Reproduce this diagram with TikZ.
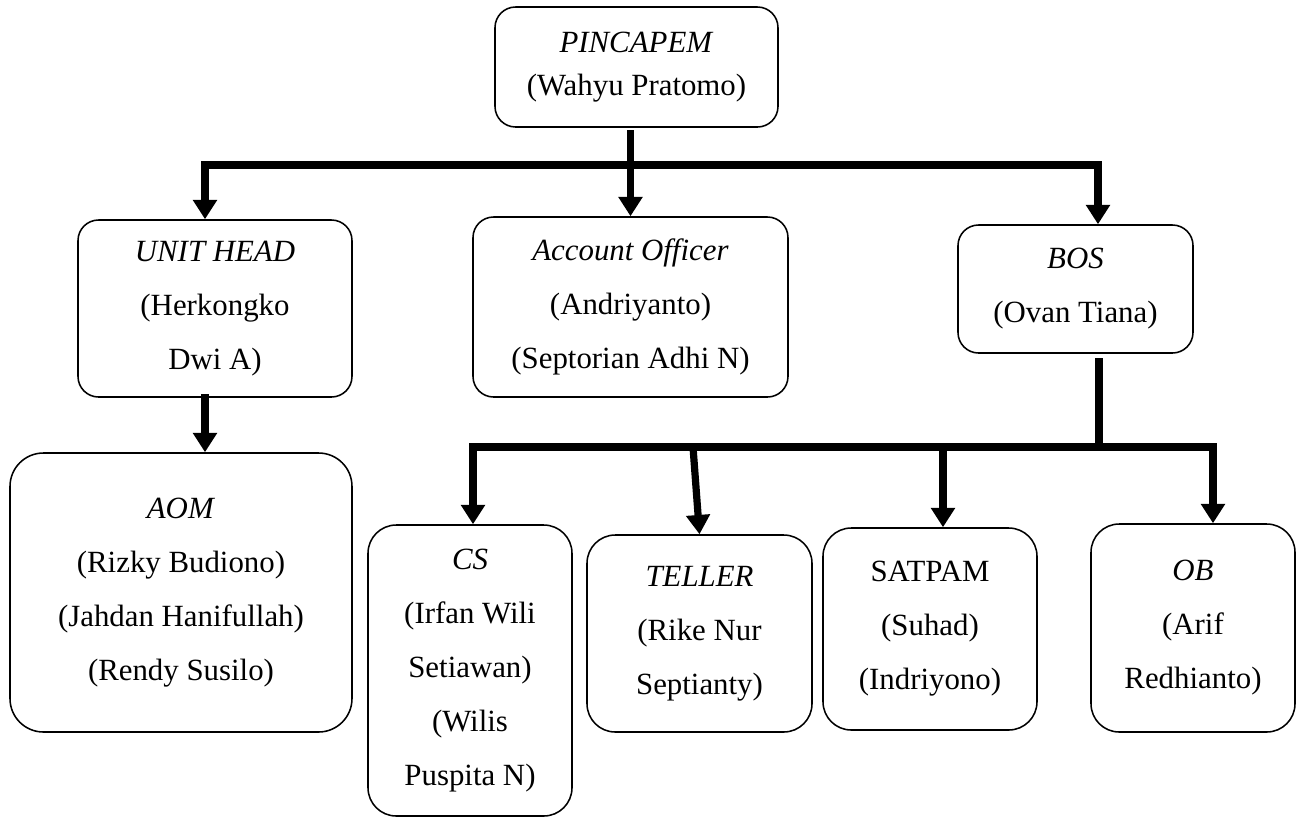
\documentclass[tikz,border=0pt]{standalone}
\usepackage{fontspec}
\setmainfont{Liberation Serif}
\usetikzlibrary{arrows.meta}
\tikzset{
  kotak/.style={draw, rounded corners=8pt, line width=0.6pt, align=center,
    inner sep=0pt, font=\fontsize{12}{21}\selectfont},
  ukuran/.style 2 args={minimum width=#1*0.389pt, minimum height=#2*0.389pt},
  garis/.style={line width=2.8pt, line cap=rect},
  panah/.style={line width=2.8pt, line cap=rect, -{Triangle[width=9pt,length=7.5pt]}},
}

\begin{document}
\begin{tikzpicture}[x=0.389pt,y=-0.389pt]
				\useasboundingbox (0,0) rectangle (1297,819);
				% kotak jabatan
				\node[kotak, ukuran={283}{120}, font=\fontsize{12}{16.7}\selectfont] (pincapem) at (636.5,67) {\textit{PINCAPEM}\\(Wahyu Pratomo)};
				\node[kotak, ukuran={274}{177}] (uh) at (215,308.5) {\textit{UNIT HEAD}\\(Herkongko\\Dwi A)};
				\node[kotak, ukuran={315}{180}] (acc) at (630.5,307) {\textit{Account Officer}\\(Andriyanto)\\(Septorian Adhi N)};
				\node[kotak, ukuran={235}{128}] (bos) at (1075.5,289) {\textit{BOS}\\(Ovan Tiana)};
				\node[kotak, ukuran={342}{279}, rounded corners=13pt] (aom) at (181,592.5) {\textit{AOM}\\(Rizky Budiono)\\(Jahdan Hanifullah)\\(Rendy Susilo)};
				\node[kotak, ukuran={204}{291}, rounded corners=11pt] (cs) at (470,670.5) {\textit{CS}\\(Irfan Wili\\Setiawan)\\(Wilis\\Puspita N)};
				\node[kotak, ukuran={225}{197}, rounded corners=11pt] (tel) at (699.5,633.5) {\textit{TELLER}\\(Rike Nur\\Septianty)};
				\node[kotak, ukuran={214}{202}, rounded corners=11pt] (sat) at (930,629) {SATPAM\\(Suhad)\\(Indriyono)};
				\node[kotak, ukuran={204}{208}, rounded corners=11pt] (ob) at (1193,628) {\textit{OB}\\(Arif\\Redhianto)};
				% titik cabang
				\coordinate (kiri) at (205,165);
				\coordinate (kanan) at (1098,165);
				\coordinate (b1) at (1099,447);
				\coordinate (h1) at (473,447);
				\coordinate (h2) at (1213,447);
				\coordinate (t1) at (693,447);
				\coordinate (s1) at (943,447);
				% garis penghubung
				\draw[panah] (acc.north |- pincapem.south) ++(0,6) -- (acc.north);
				\draw[garis] (kiri) -- (kanan);
				\draw[panah] (kiri) -- (kiri |- uh.north);
				\draw[panah] (kanan) -- (kanan |- bos.north);
				\draw[panah] (kiri |- uh.south) -- (kiri |- aom.north);
				\draw[garis] (b1 |- bos.south) ++(0,8) -- (b1);
				\draw[garis] (h1) -- (h2);
				\draw[panah] (h1) -- (h1 |- cs.north);
				\draw[panah] (t1) -- (tel.north);
				\draw[panah] (s1) -- (s1 |- sat.north);
				\draw[panah] (h2) -- (h2 |- ob.north);
			\end{tikzpicture}
\end{document}
